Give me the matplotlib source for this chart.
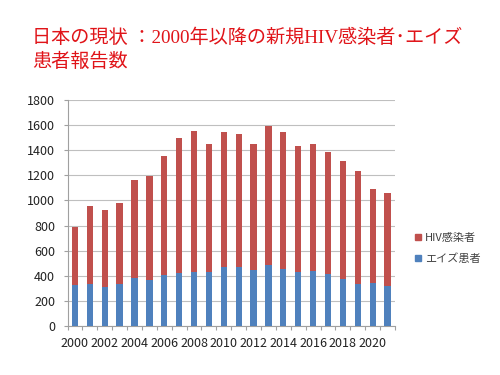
import matplotlib
matplotlib.use("Agg")
import matplotlib.pyplot as plt
from matplotlib.ticker import MultipleLocator, FixedLocator
from matplotlib.lines import Line2D
import numpy as np

years = list(range(2000, 2022))
aids = [329, 332, 308, 336, 385, 367, 406, 418, 431, 431, 469, 473, 447, 484,
        455, 428, 437, 413, 377, 333, 345, 315]
hiv = [462, 621, 614, 640, 780, 832, 952, 1082, 1126, 1021, 1075, 1056, 1002,
       1106, 1091, 1006, 1011, 976, 940, 903, 750, 742]
series_names = ["HIV感染者", "エイズ患者"]
title_text = "日本の現状 ：2000年以降の新規HIV感染者･エイズ\n患者報告数"

plt.rcParams['font.family'] = ['Noto Sans CJK JP', 'DejaVu Sans']

fig = plt.figure(figsize=(5, 3.75), dpi=100)
ax = fig.add_axes([0.135, 0.131, 0.655, 0.602])

x = np.arange(len(years))
red = '#C0504D'
blue = '#4F81BD'
w = 0.42
ax.bar(x, aids, width=w, color=blue, zorder=3)
ax.bar(x, hiv, width=w, bottom=aids, color=red, zorder=3)

ax.set_xlim(-0.5, len(years) - 0.5)
ax.set_ylim(0, 1800)
ax.yaxis.set_major_locator(MultipleLocator(200))
ax.grid(axis='y', color='#BFBFBF', linewidth=0.8, zorder=0)

ax.set_xticks(x[::2])
ax.set_xticklabels([str(y) for y in years[::2]])
ax.xaxis.set_minor_locator(FixedLocator(np.arange(-0.5, len(years), 1.0)))
ax.tick_params(axis='x', which='major', length=0, pad=8, labelsize=9)
ax.tick_params(axis='x', which='minor', length=3, color='#A0A0A0', width=0.8)
ax.tick_params(axis='y', length=3, color='#A0A0A0', width=0.8, labelsize=9, pad=6)
ax.tick_params(axis='both', labelcolor='#222222')

for s in ['top', 'right']:
    ax.spines[s].set_visible(False)
for s in ['left', 'bottom']:
    ax.spines[s].set_color('#A0A0A0')
    ax.spines[s].set_linewidth(0.8)

handles = [Line2D([], [], marker='s', linestyle='none', color=red, markersize=4.5),
           Line2D([], [], marker='s', linestyle='none', color=blue, markersize=4.5)]
leg = fig.legend(handles, series_names, loc='center left',
                 bbox_to_anchor=(0.818, 0.338), frameon=False, fontsize=8,
                 handlelength=0.6, handletextpad=0.3, labelspacing=0.95,
                 borderpad=0)
for t in leg.get_texts():
    t.set_color('#404040')

fig.text(0.064, 0.925, title_text, color='#E01419', fontsize=13.8,
         family=['Liberation Serif', 'Noto Sans CJK JP'], va='top', ha='left',
         linespacing=1.45)

fig.savefig('out.png', dpi=100)
